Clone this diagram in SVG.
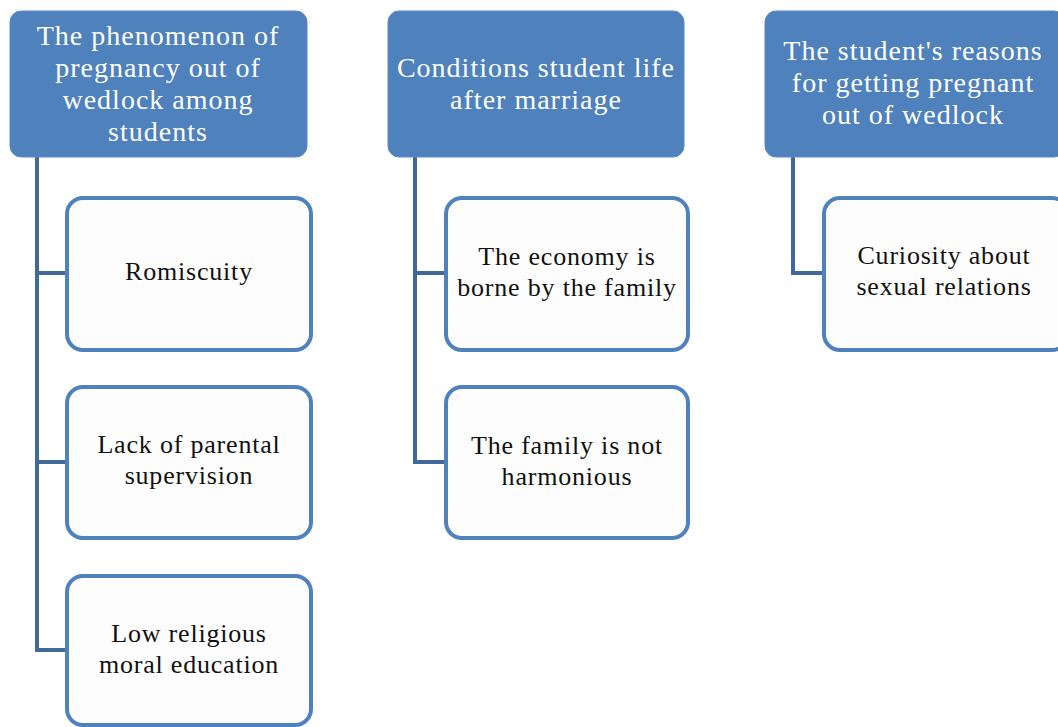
<svg xmlns="http://www.w3.org/2000/svg" width="1058" height="727" viewBox="0 0 1058 727">
<style>
.hdr{fill:#4F81BD;stroke:#5B8BC6;stroke-width:1}
.hdrt{font-family:'Liberation Serif','Times New Roman',serif;font-size:28px;letter-spacing:1px;fill:#FFFFFF;text-anchor:middle}
.box{fill:#FDFDFD;stroke:#4F81BD;stroke-width:4}
.boxt{font-family:'Liberation Serif','Times New Roman',serif;font-size:26px;letter-spacing:0.8px;fill:#111111;text-anchor:middle}
.conn{fill:none;stroke:#41699C;stroke-width:4}
</style>
<rect width="1058" height="727" fill="#FFFFFF"/>
<g id="connectors">
<path class="conn" d="M37 157 V650 H67 M37 273 H67 M37 462 H67"/>
<path class="conn" d="M415 157 V462 H446 M415 273 H446"/>
<path class="conn" d="M793 157 V273 H824"/>
</g>
<g id="h1">
<rect class="hdr" x="10" y="11" width="297" height="146" rx="11"/>
<text class="hdrt"><tspan x="158" y="45">The phenomenon of</tspan><tspan x="158" y="77">pregnancy out of</tspan><tspan x="158" y="109">wedlock among</tspan><tspan x="158" y="141">students</tspan></text>
</g>
<g id="h2">
<rect class="hdr" x="388" y="11" width="296" height="146" rx="11"/>
<text class="hdrt"><tspan x="536" y="77">Conditions student life</tspan><tspan x="536" y="109">after marriage</tspan></text>
</g>
<g id="h3">
<rect class="hdr" x="765" y="11" width="300" height="146" rx="11"/>
<text class="hdrt"><tspan x="913" y="60">The student's reasons</tspan><tspan x="913" y="92">for getting pregnant</tspan><tspan x="913" y="124">out of wedlock</tspan></text>
</g>
<g id="c1">
<rect class="box" x="67" y="198" width="244" height="152" rx="16"/>
<text class="boxt" x="189" y="280">Romiscuity</text>
</g>
<g id="c2">
<rect class="box" x="67" y="387" width="244" height="151" rx="16"/>
<text class="boxt"><tspan x="189" y="453">Lack of parental</tspan><tspan x="189" y="484">supervision</tspan></text>
</g>
<g id="c3">
<rect class="box" x="67" y="576" width="244" height="149" rx="16"/>
<text class="boxt"><tspan x="189" y="642">Low religious</tspan><tspan x="189" y="673">moral education</tspan></text>
</g>
<g id="c4">
<rect class="box" x="446" y="198" width="242" height="152" rx="16"/>
<text class="boxt"><tspan x="567" y="265">The economy is</tspan><tspan x="567" y="296">borne by the family</tspan></text>
</g>
<g id="c5">
<rect class="box" x="446" y="387" width="242" height="151" rx="16"/>
<text class="boxt"><tspan x="567" y="454">The family is not</tspan><tspan x="567" y="485">harmonious</tspan></text>
</g>
<g id="c6">
<rect class="box" x="824" y="198" width="244" height="152" rx="16"/>
<text class="boxt"><tspan x="944" y="264">Curiosity about</tspan><tspan x="944" y="295">sexual relations</tspan></text>
</g>
</svg>
